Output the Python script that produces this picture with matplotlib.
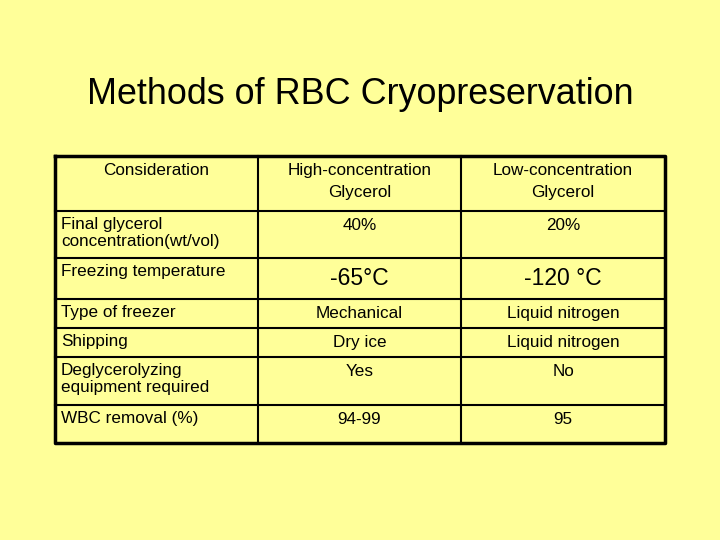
import matplotlib
matplotlib.use("Agg")
import matplotlib.pyplot as plt

title = "Methods of RBC Cryopreservation"
headers = ["Consideration", "High-concentration\nGlycerol", "Low-concentration\nGlycerol"]
considerations = ["Final glycerol\nconcentration(wt/vol)", "Freezing temperature", "Type of freezer",
                  "Shipping", "Deglycerolyzing\nequipment required", "WBC removal (%)"]
high = ["40%", "-65°C", "Mechanical", "Dry ice", "Yes", "94-99"]
low = ["20%", "-120 °C", "Liquid nitrogen", "Liquid nitrogen", "No", "95"]

cols = [55, 258, 461, 665]
rows = [156, 211, 258, 299, 328, 357, 405, 443]

fig = plt.figure(figsize=(7.2, 5.4), dpi=100)
fig.patch.set_facecolor("#FFFF99")
ax = fig.add_axes([0, 0, 1, 1])
ax.set_xlim(0, 720); ax.set_ylim(540, 0); ax.axis("off")
ax.set_facecolor("#FFFF99")
fam = ["Liberation Sans", "DejaVu Sans"]

ax.text(360, 94, title, ha="center", va="center", fontsize=25.8, family=fam)

# grid
for y in rows[1:-1]:
    ax.plot([cols[0], cols[-1]], [y, y], color="black", lw=1.5)
for x in cols[1:-1]:
    ax.plot([x, x], [rows[0], rows[-1]], color="black", lw=1.5)
ax.plot([cols[0], cols[-1], cols[-1], cols[0], cols[0]],
        [rows[0], rows[0], rows[-1], rows[-1], rows[0]], color="black", lw=2.5)

def cx(i):
    return (cols[i] + cols[i + 1]) / 2

for i, h in enumerate(headers):
    ax.text(cx(i), rows[0] + 7, h, ha="center", va="top", fontsize=12.3, family=fam, linespacing=1.55)

for r in range(len(considerations)):
    top = rows[r + 1]
    ax.text(cols[0] + 6, top + 6, considerations[r], ha="left", va="top", fontsize=12.3, family=fam, linespacing=1.15)
    big = r == 1
    fs = 16.5 if big else 12.3
    off = 9 if big else 7
    ax.text(cx(1), top + off, high[r], ha="center", va="top", fontsize=fs, family=fam)
    ax.text(cx(2), top + off, low[r], ha="center", va="top", fontsize=fs, family=fam)

fig.savefig("out.png", dpi=100, facecolor=fig.get_facecolor())
